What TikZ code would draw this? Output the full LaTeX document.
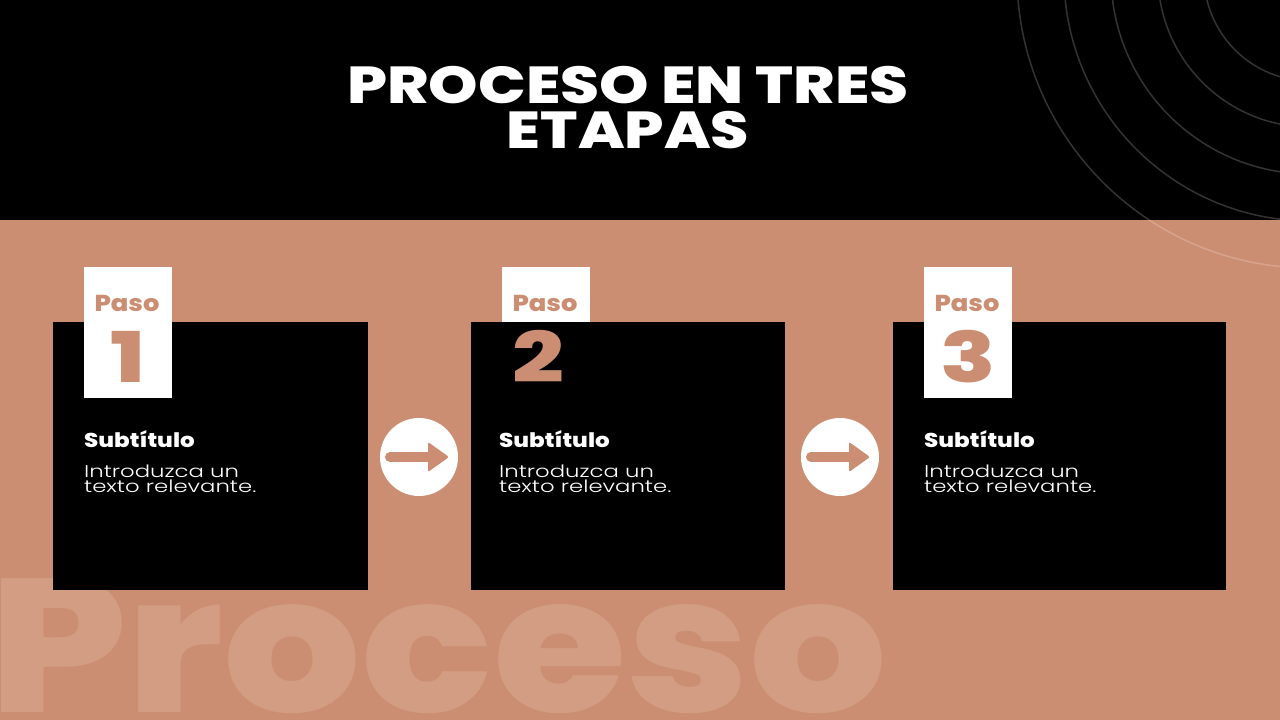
\documentclass[tikz,border=0pt]{standalone}
\usepackage{fontspec}
\usepackage{graphicx}
\usetikzlibrary{calc}
\setmainfont{Poppins}
\newfontfamily\heavy{Poppins ExtraBold}
\newfontfamily\light{Poppins Light}
\definecolor{tan}{RGB}{204,142,114}
\definecolor{tanlight}{RGB}{210,157,130}
\begin{document}
\begin{tikzpicture}[x=1pt,y=-1pt,
  stepbox/.style={fill=black, inner sep=0pt, anchor=north west, minimum height=268pt},
  labelbox/.style={fill=white, inner sep=0pt, anchor=north west, minimum width=88pt},
  pasotext/.style={anchor=base, inner sep=0pt, text=tan, font=\heavy\fontsize{23}{23}\selectfont},
  digit/.style={anchor=base, inner sep=0pt, text=tan, font=\heavy\fontsize{70}{70}\selectfont},
  subt/.style={anchor=base west, inner sep=0pt, text=white, font=\heavy\fontsize{20}{20}\selectfont},
  bodyt/.style={anchor=base west, inner sep=0pt, text=white, font=\light\fontsize{17}{17}\selectfont},
  titlet/.style={anchor=north, inner sep=0pt, text=white, align=center, font=\heavy\fontsize{52}{45}\selectfont},
  circ/.style={circle, fill=white, minimum size=78pt, inner sep=0pt},
  shaft/.style={draw=tan, line width=10pt, line cap=round}
]
\useasboundingbox (0,0) rectangle (1280,720);
\fill[black] (0,0) rectangle (1280,220);
\fill[tan] (0,220) rectangle (1280,720);
\begin{scope}
  \clip (0,0) rectangle (1280,720);
  \foreach \r in {106,152,199,246,293}
    \draw[white, opacity=0.2, line width=1.5pt] (1310,-25) circle (\r);
\end{scope}
\node[anchor=base west, inner sep=0pt, text=tanlight, font=\heavy\fontsize{190}{190}\selectfont] (wm) at (-11,712) {\scalebox{1.14}[1]{Proceso}};
\node[titlet] (title) at (628,66) {\scalebox{1.21}[1]{PROCESO EN TRES}\\\scalebox{1.19}[1]{ETAPAS}};
\foreach \i/\bx/\bw/\lx/\lh/\dx/\tx in {1/53/315/84/131/128/84, 2/471/314/502/55/538/499, 3/893/333/924/131/968/924} {
  \node[stepbox, minimum width=\bw pt] (box\i) at (\bx,322) {};
  \node[labelbox, minimum height=\lh pt] (lab\i) at (\lx,267) {};
  \node[pasotext] (paso\i) at (\lx+43,311) {\scalebox{1.12}[1]{Paso}};
  \node[digit] (dig\i) at (\dx,382) {\scalebox{1.3}[1]{\i}};
  \node[subt] (sub\i) at (\tx,447) {\scalebox{1.15}[1]{Subtítulo}};
  \node[bodyt] (bda\i) at (\tx,477) {\scalebox{1.34}[1]{Introduzca un}};
  \node[bodyt] (bdb\i) at (\tx,492) {\scalebox{1.34}[1]{texto relevante.}};
}
\foreach \a/\cx in {1/419, 2/840} {
  \node[circ] (arr\a) at (\cx,457) {};
  \draw[shaft] ($(arr\a.center)+(-29,0)$) -- ($(arr\a.center)+(12,0)$);
  \fill[tan, rounded corners=2pt] ($(arr\a.center)+(9,-15)$) -- ($(arr\a.center)+(30,0)$) -- ($(arr\a.center)+(9,15)$) -- cycle;
}
\end{tikzpicture}
\end{document}
